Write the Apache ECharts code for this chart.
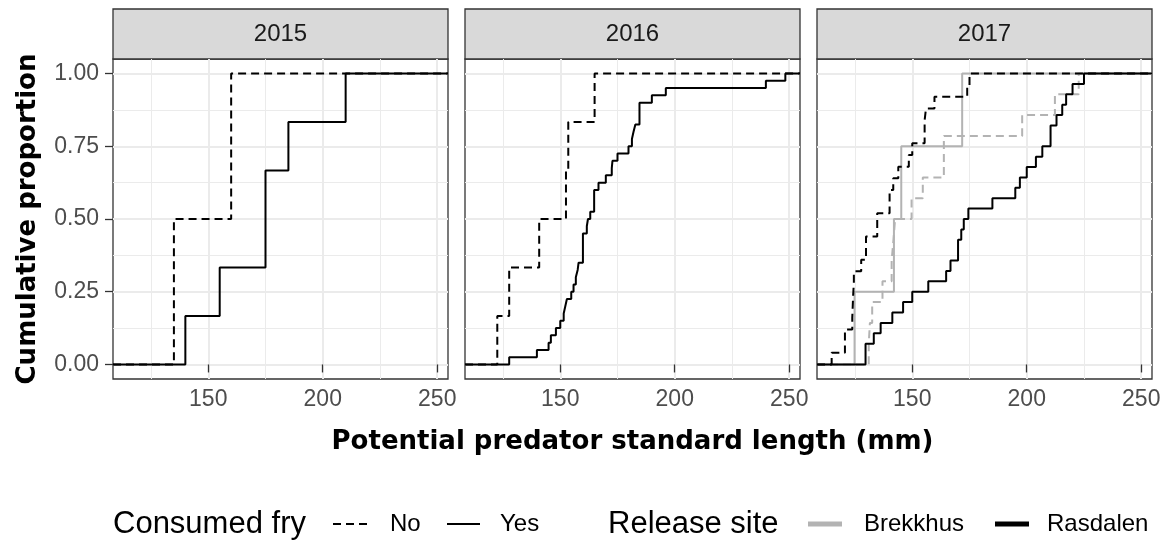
<!DOCTYPE html>
<html>
<head>
<meta charset="utf-8">
<title>Cumulative proportion of potential predator length</title>
<script src="https://cdn.jsdelivr.net/npm/echarts@6/dist/echarts.min.js"></script>
<style>
  html, body { margin: 0; padding: 0; background: #fff; }
  #chart { width: 1168px; height: 540px; }
</style>
</head>
<body>
<div id="chart"></div>
<script>
const years = ['2015', '2016', '2017']
const xTicks = [150, 200, 250]
const xMinor = [125, 175, 225]
const yTicks = [0, 0.25, 0.5, 0.75, 1]
const yMinor = [0.125, 0.375, 0.625, 0.875]

// standard length (mm) of each potential predator, per year / release site / consumed fry
const ras2015No = [135, 160]
const ras2015Yes = [140, 155, 175, 175, 185, 210]
const ras2016No = [122.5, 127.7, 140.8, 152.5, 153.5, 165]
const ras2016Yes = [127.7, 139.8, 144.9, 145.9, 148.1, 150, 151.5, 152.2, 152.9, 154.8,
  155.8, 156.8, 157.6, 158, 159.9, 159.9, 159.9, 159.9, 161.6, 162.1,
  163.1, 164.8, 164.8, 164.8, 166.7, 169.9, 172.5, 172.8, 175, 179.8,
  181.3, 182, 182.8, 184.6, 184.6, 184.6, 190, 196.1, 239.8, 248.3]
const brek2017No = [131, 131.5, 132.5, 137, 141, 141.8, 142.5, 149.7, 154.6, 163.8,
  163.8, 198, 212.3, 222.7]
const brek2017Yes = [124.8, 142, 145.2, 171.8]
const ras2017No = [114.8, 120.6, 120.6, 123.8, 124, 124.2, 124.5, 124.5, 127.7, 129.8,
  129.8, 134.7, 134.7, 140.1, 140.1, 141.7, 143.9, 148.5, 150, 155.4,
  155.4, 156, 159.7, 174, 175]
const ras2017Yes = [129.6, 129.6, 133.2, 136.2, 141.3, 146, 150, 157, 164.8, 166.7,
  170, 170, 171.4, 172.5, 174.5, 185, 195, 197, 200, 204,
  206.8, 210.4, 210.4, 213, 215.5, 217.2, 220, 225]

const groups = [
  { year: 0, site: 'Rasdalen', fry: 'No', values: ras2015No },
  { year: 0, site: 'Rasdalen', fry: 'Yes', values: ras2015Yes },
  { year: 1, site: 'Rasdalen', fry: 'No', values: ras2016No },
  { year: 1, site: 'Rasdalen', fry: 'Yes', values: ras2016Yes },
  { year: 2, site: 'Brekkhus', fry: 'No', values: brek2017No },
  { year: 2, site: 'Brekkhus', fry: 'Yes', values: brek2017Yes },
  { year: 2, site: 'Rasdalen', fry: 'No', values: ras2017No },
  { year: 2, site: 'Rasdalen', fry: 'Yes', values: ras2017Yes }
]

const XMIN = 108.4
const XMAX = 254.7
const YMIN = -0.05
const YMAX = 1.05

const siteColor = { Brekkhus: '#b3b3b3', Rasdalen: '#000000' }
const fryDash = { No: [8, 5], Yes: 'solid' }

const panelLeft = [113, 465, 817]
const panelWidth = 335
const panelTop = 59
const panelHeight = 320
const stripTop = 9

const tickFont = 'Liberation Sans'
const titleFont = 'DejaVu Sans'

function ecdf(values) {
  const sorted = values.slice().sort((a, b) => a - b)
  const n = sorted.length
  const pts = [[XMIN, 0]]
  sorted.forEach((v, i) => pts.push([v, (i + 1) / n]))
  pts.push([XMAX, 1])
  return pts
}

const grids = []
const xAxes = []
const yAxes = []
years.forEach((y, g) => {
  grids.push({
    left: panelLeft[g], top: panelTop, width: panelWidth, height: panelHeight,
    show: true, borderColor: '#333333', borderWidth: 1.3, backgroundColor: 'transparent'
  })
  // major x
  xAxes.push({
    gridIndex: g, type: 'value', min: XMIN, max: XMAX,
    axisLine: { show: false },
    axisTick: { show: true, length: 8, customValues: xTicks, lineStyle: { color: '#333333', width: 1.3 } },
    axisLabel: { show: true, customValues: xTicks, margin: 9, fontSize: 23, fontFamily: tickFont, color: '#4d4d4d' },
    splitLine: { show: true, lineStyle: { color: '#ebebeb', width: 2 } },
    name: g === 1 ? 'Potential predator standard length (mm)' : '',
    nameLocation: 'middle',
    nameGap: 50,
    nameTextStyle: { fontSize: 26, fontWeight: 'bold', fontFamily: titleFont, color: '#000' }
  })
  // minor x
  xAxes.push({
    gridIndex: g, type: 'value', min: XMIN, max: XMAX, position: 'bottom',
    axisLine: { show: false },
    axisTick: { show: false, customValues: xMinor },
    axisLabel: { show: false },
    splitLine: { show: true, lineStyle: { color: '#ebebeb', width: 1 } }
  })
  yAxes.push({
    gridIndex: g, type: 'value', min: YMIN, max: YMAX,
    axisLine: { show: false },
    axisTick: { show: g === 0, length: 8, customValues: yTicks, lineStyle: { color: '#333333', width: 1.3 } },
    axisLabel: {
      show: g === 0, customValues: yTicks, margin: 14, fontSize: 23, fontFamily: tickFont, color: '#4d4d4d',
      formatter: v => v.toFixed(2)
    },
    splitLine: { show: true, lineStyle: { color: '#ebebeb', width: 2 } },
    name: g === 0 ? 'Cumulative proportion' : '',
    nameLocation: 'middle',
    nameRotate: 90,
    nameGap: 72,
    nameTextStyle: { fontSize: 26, fontWeight: 'bold', fontFamily: titleFont, color: '#000' }
  })
  yAxes.push({
    gridIndex: g, type: 'value', min: YMIN, max: YMAX, position: 'left',
    axisLine: { show: false },
    axisTick: { show: false, customValues: yMinor },
    axisLabel: { show: false },
    splitLine: { show: true, lineStyle: { color: '#ebebeb', width: 1 } }
  })
})

// grey first so black lines sit on top
const ordered = groups.filter(d => d.site === 'Brekkhus').concat(groups.filter(d => d.site !== 'Brekkhus'))
const series = ordered.map(d => ({
  type: 'line',
  name: years[d.year] + ' ' + d.site + ' ' + d.fry,
  xAxisIndex: d.year * 2,
  yAxisIndex: d.year * 2,
  data: ecdf(d.values),
  step: 'end',
  symbol: 'none',
  silent: true,
  lineStyle: { color: siteColor[d.site], width: 2, type: fryDash[d.fry] }
}))

const graphic = []
years.forEach((y, g) => {
  graphic.push({
    type: 'rect',
    shape: { x: panelLeft[g], y: stripTop, width: panelWidth, height: panelTop - stripTop },
    style: { fill: '#d9d9d9', stroke: '#333333', lineWidth: 1.3 }
  })
  graphic.push({
    type: 'text',
    x: panelLeft[g] + panelWidth / 2,
    y: (stripTop + panelTop) / 2,
    style: { text: y, font: '24px "Liberation Sans"', fill: '#1a1a1a', align: 'center', verticalAlign: 'middle' }
  })
})

// legend
const legY = 524
const legTitleFont = '31px "Liberation Sans"'
const legLabelFont = '24px "Liberation Sans"'
graphic.push(
  { type: 'text', x: 113, y: legY, style: { text: 'Consumed fry', font: legTitleFont, fill: '#000', verticalAlign: 'middle' } },
  { type: 'line', shape: { x1: 333, y1: legY, x2: 368, y2: legY }, style: { stroke: '#000', lineWidth: 2, lineDash: [8, 5] } },
  { type: 'text', x: 390, y: legY, style: { text: 'No', font: legLabelFont, fill: '#000', verticalAlign: 'middle' } },
  { type: 'line', shape: { x1: 447, y1: legY, x2: 480, y2: legY }, style: { stroke: '#000', lineWidth: 2 } },
  { type: 'text', x: 500, y: legY, style: { text: 'Yes', font: legLabelFont, fill: '#000', verticalAlign: 'middle' } },
  { type: 'text', x: 608, y: legY, style: { text: 'Release site', font: legTitleFont, fill: '#000', verticalAlign: 'middle' } },
  { type: 'line', shape: { x1: 808, y1: legY, x2: 842, y2: legY }, style: { stroke: siteColor.Brekkhus, lineWidth: 5 } },
  { type: 'text', x: 864, y: legY, style: { text: 'Brekkhus', font: legLabelFont, fill: '#000', verticalAlign: 'middle' } },
  { type: 'line', shape: { x1: 995, y1: legY, x2: 1029, y2: legY }, style: { stroke: siteColor.Rasdalen, lineWidth: 5 } },
  { type: 'text', x: 1047, y: legY, style: { text: 'Rasdalen', font: legLabelFont, fill: '#000', verticalAlign: 'middle' } }
)

const chart = echarts.init(document.getElementById('chart'), null, { renderer: 'canvas' })
chart.setOption({
  animation: false,
  backgroundColor: '#ffffff',
  grid: grids,
  xAxis: xAxes,
  yAxis: yAxes,
  series: series,
  graphic: graphic
})
</script>
</body>
</html>
